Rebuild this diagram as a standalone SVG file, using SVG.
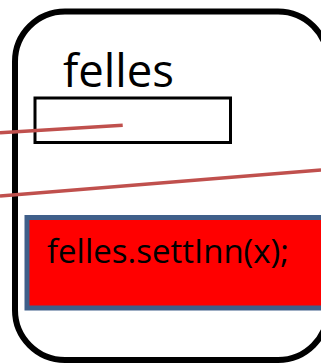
<svg xmlns="http://www.w3.org/2000/svg" width="321" height="364" viewBox="0 0 321 364">
<style>
.lbl{font-family:"Open Sans","Liberation Sans",sans-serif;fill:#000}
.red{stroke:#C0504D;stroke-width:3.5;fill:none}
</style>
<rect width="321" height="364" fill="#fff"/>
<g id="container">
<rect x="15" y="11.5" width="313" height="348.5" rx="50" ry="50" fill="#fff" stroke="#000" stroke-width="6"/>
<text class="lbl" x="63" y="87" font-size="46" textLength="111" lengthAdjust="spacingAndGlyphs">felles</text>
</g>
<g id="felles-box">
<rect x="35" y="98" width="195.5" height="44.5" fill="none" stroke="#000" stroke-width="3"/>
</g>
<g id="call">
<rect x="27" y="217.5" width="300" height="90.5" fill="#FF0000" stroke="#3F5F8A" stroke-width="5"/>
<text class="lbl" x="47" y="263" font-size="32" textLength="242" lengthAdjust="spacingAndGlyphs">felles.settInn(x);</text>
</g>
<g id="connectors">
<line class="red" x1="0" y1="132.7" x2="122.7" y2="125.3"/>
<line class="red" x1="0" y1="196" x2="321" y2="170"/>
</g>
</svg>
